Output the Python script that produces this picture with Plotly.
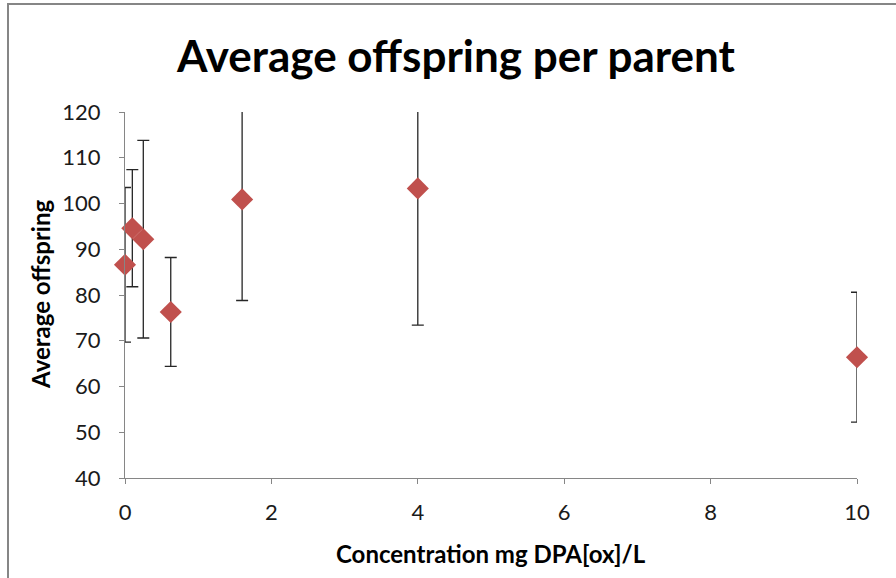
import plotly.graph_objects as go

concentrations = [0, 0.1, 0.25, 0.625, 1.6, 4, 10]
avg_offspring = [86.6, 94.6, 92.2, 76.3, 100.9, 103.3, 66.4]
error_values = [16.9, 12.8, 21.6, 11.9, 22.1, 29.9, 14.2]
x_ticks = [0, 2, 4, 6, 8, 10]
y_ticks = [40, 50, 60, 70, 80, 90, 100, 110, 120]

W, H = 896, 578
L, R, T, B = 125, 39, 112, 100
PW, PH = W - L - R, H - T - B

fig = go.Figure()
# error bars (clipped to plot area)
fig.add_trace(go.Scatter(
    x=concentrations, y=avg_offspring, mode="markers",
    marker=dict(size=1, color="rgba(0,0,0,0)"),
    error_y=dict(type="data", array=error_values, visible=True,
                 color="#262626", thickness=1.3, width=6),
    cliponaxis=True, showlegend=False, hoverinfo="skip"))
# markers (not clipped)
fig.add_trace(go.Scatter(
    x=concentrations, y=avg_offspring, mode="markers",
    marker=dict(symbol="diamond", size=17, color="#C0504D"),
    cliponaxis=False, showlegend=False))

FONT = "Lato, Open Sans, sans-serif"
axis_font = dict(family=FONT, size=22, color="#1a1a1a")
fig.update_layout(
    width=W, height=H,
    margin=dict(l=L, r=R, t=T, b=B),
    paper_bgcolor="white", plot_bgcolor="white",
    title=dict(text="<b>Average offspring per parent</b>",
               font=dict(family=FONT, size=44, color="black"),
               x=456 / W, xanchor="center", xref="container",
               y=1 - 57 / H, yanchor="middle", yref="container"),
    xaxis=dict(range=[0, 10], tickvals=x_ticks, ticks="outside", ticklen=5,
               tickcolor="#868686", showline=True, linecolor="#868686", linewidth=1,
               showgrid=False, zeroline=False, tickfont=axis_font,
               ticklabelstandoff=10),
    yaxis=dict(range=[40, 120], tickvals=y_ticks, ticks="outside", ticklen=5,
               tickcolor="#868686", showline=True, linecolor="#868686", linewidth=1,
               showgrid=False, zeroline=False, tickfont=axis_font,
               ticklabelstandoff=14),
    annotations=[
        dict(text="<b>Concentration mg DPA[ox]/L</b>", xref="paper", yref="paper",
             x=0.5, y=(H - B - 553) / PH, xanchor="center", yanchor="middle",
             showarrow=False, font=dict(family=FONT, size=24, color="black")),
        dict(text="<b>Average offspring</b>", xref="paper", yref="paper",
             x=(40 - L) / PW, y=0.5, xanchor="center", yanchor="middle",
             textangle=-90, showarrow=False,
             font=dict(family=FONT, size=24, color="black")),
    ],
)
# chart frame: only top and left edges fall inside the canvas
fig.add_shape(type="rect", xref="paper", yref="paper",
              x0=(8 - L) / PW, x1=(W + 40 - L) / PW,
              y0=-(B + 40) / PH, y1=(H - B - 4) / PH,
              line=dict(color="#868686", width=2), fillcolor="rgba(0,0,0,0)",
              layer="below")

fig.write_html("out.html",
               config={"displayModeBar": False},
               post_script="document.body.style.margin='0';"
                           "document.body.style.overflow='hidden';")
